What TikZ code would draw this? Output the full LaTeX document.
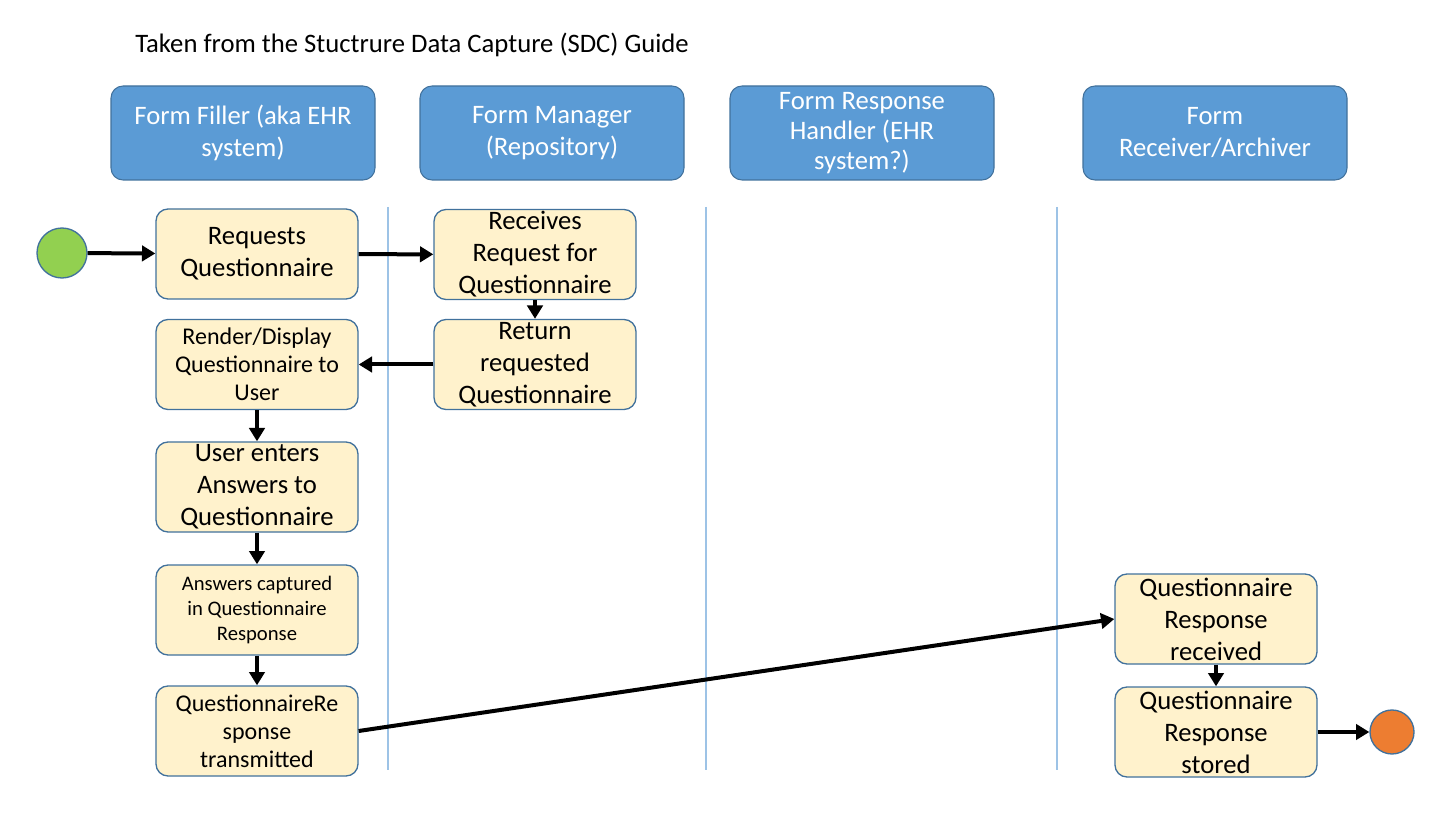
\documentclass[tikz,border=0pt]{standalone}
\usepackage{fontspec}
\setmainfont{Carlito}
\usetikzlibrary{arrows.meta}
\usetikzlibrary{shapes}
\definecolor{lanefill}{HTML}{5B9BD5}
\definecolor{laneborder}{HTML}{41719C}
\definecolor{taskfill}{HTML}{FFF2CC}
\definecolor{taskborder}{HTML}{41719C}
\definecolor{sepline}{HTML}{9DC3E6}
\definecolor{startfill}{HTML}{92D050}
\definecolor{endfill}{HTML}{ED7D31}
\newcommand{\bigtext}[0]{\fontsize{20}{24}\selectfont}
\newcommand{\midtext}[0]{\fontsize{18}{21}\selectfont}
\newcommand{\smalltext}[0]{\fontsize{15.5}{19}\selectfont}
\tikzset{
lanehead/.style={
  align=center,
  draw=laneborder,
  fill=lanefill,
  text=white,
  rounded corners=9pt,
  line width=0.8pt,
  inner sep=0pt,
  minimum width=198pt,
  minimum height=70.5pt,
  font=\bigtext
  }
}
\tikzset{
task/.style={
  align=center,
  draw=taskborder,
  fill=taskfill,
  rounded corners=9pt,
  line width=1pt,
  inner sep=0pt,
  minimum width=151.5pt,
  minimum height=67.5pt,
  font=\bigtext
  }
}
\tikzset{
event/.style={
  circle,
  draw=taskborder,
  line width=1pt
  }
}
\tikzstyle{flow} = [draw,line width=3pt,-{Triangle[length=10pt,width=11.5pt]}]
\tikzstyle{separator} = [draw=sepline,line width=1.1pt]
\tikzset{%
    boundingBox/.style={use as bounding box},
    }
\begin{document}
\begin{tikzpicture}[x=0.75pt, y=-0.75pt]
        \path[boundingBox] (0,0) rectangle (1450,816);
	\pgfdeclarelayer{background}
	\pgfsetlayers{background,main}

	\begin{pgfonlayer}{main}
		%title
		\node (title) at (135,45) [anchor=west, inner sep=0pt, font=\fontsize{20}{24}\selectfont] {Taken from the Stuctrure Data Capture (SDC) Guide};

		%lane headers
		\node (hfiller) at (243,133) [lanehead] {Form Filler (aka EHR\\system)};
		\node (hmanager) at (552,133) [lanehead] {Form Manager\\(Repository)};
		\node (hhandler) at (862,133) [lanehead, font=\fontsize{20}{22.5}\selectfont] {Form Response\\Handler (EHR\\system?)};
		\node (hreceiver) at (1215,133) [lanehead] {Form\\Receiver/Archiver};

		%vertices
		\node (start) at (62,253) [event, fill=startfill, minimum size=37.5pt] {};
		\node (vrequest) at (257,254) [task] {Requests\\Questionnaire};
		\node (vreceive) at (535,254.5) [task] {Receives\\Request for\\Questionnaire};
		\node (vreturn) at (535,364.5) [task] {Return\\requested\\Questionnaire};
		\node (vrender) at (257,364.5) [task, font=\midtext] {Render/Display\\Questionnaire to\\User};
		\node (venter) at (257,487) [task] {User enters\\Answers to\\Questionnaire};
		\node (vcapture) at (257,610) [task, font=\smalltext] {Answers captured\\in Questionnaire\\Response};
		\node (vtransmit) at (257,731) [task, font=\midtext] {QuestionnaireRe\\sponse\\transmitted};
		\node (vreceived) at (1216,619) [task] {Questionnaire\\Response\\received};
		\node (vstored) at (1216,732) [task] {Questionnaire\\Response\\stored};
		\node (stop) at (1392,732) [event, fill=endfill, minimum size=33pt] {};

		%edges
		\draw (start) edge[flow] (vrequest);
		\draw (vrequest) edge[flow] (vreceive);
		\draw (vreceive) edge[flow] (vreturn);
		\draw (vreturn) edge[flow] (vrender);
		\draw (vrender) edge[flow] (venter);
		\draw (venter) edge[flow] (vcapture);
		\draw (vcapture) edge[flow] (vtransmit);
		\draw (vtransmit.east) edge[flow] (vreceived.west);
		\draw (vreceived) edge[flow] (vstored);
		\draw (vstored) edge[flow] (stop);
	\end{pgfonlayer}

	\begin{pgfonlayer}{background}
		\coordinate (s1top) at (388,207);
		\coordinate (s1bot) at (388,770);
		\coordinate (s2top) at (706,207);
		\coordinate (s2bot) at (706,770);
		\coordinate (s3top) at (1057,207);
		\coordinate (s3bot) at (1057,770);
		\draw[separator] (s1top) -- (s1bot);
		\draw[separator] (s2top) -- (s2bot);
		\draw[separator] (s3top) -- (s3bot);
	\end{pgfonlayer}
\end{tikzpicture}
\end{document}
